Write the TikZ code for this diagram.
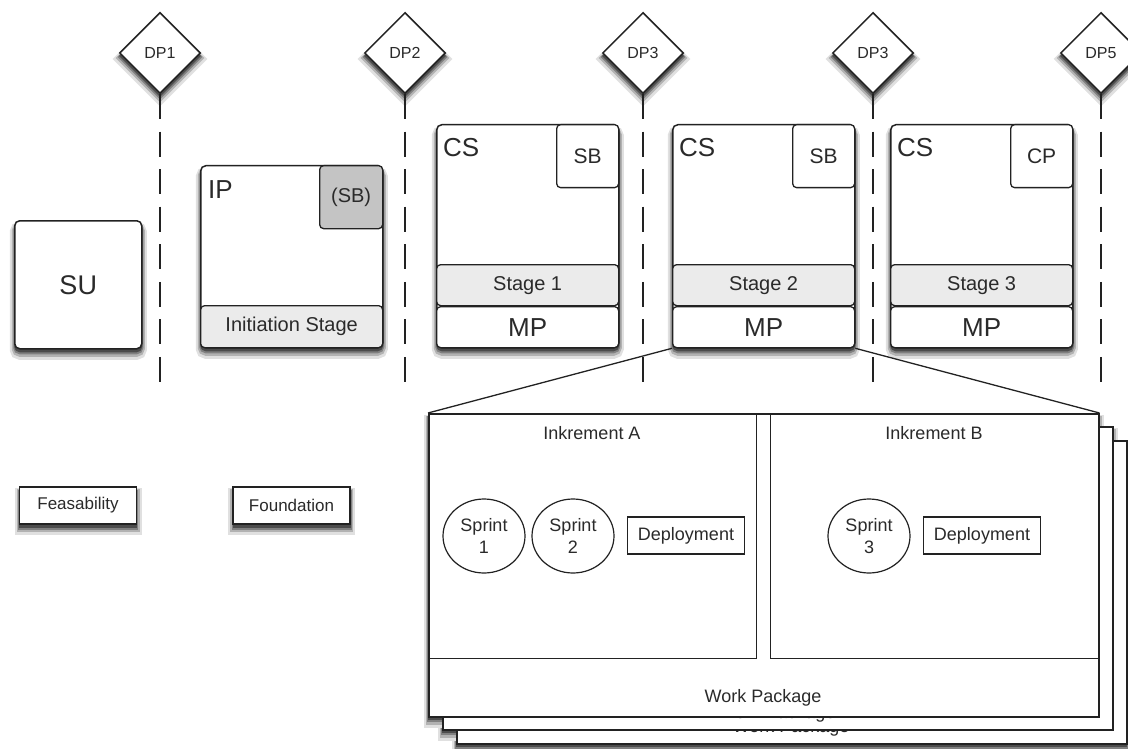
\documentclass[tikz,border=0pt]{standalone}
\usepackage{fontspec}
\setmainfont{Liberation Sans}
\usetikzlibrary{shapes.geometric,shadows}
\definecolor{ln}{HTML}{222222}
\definecolor{tx}{HTML}{2A2A2A}
\definecolor{band}{HTML}{EBEBEB}
\definecolor{sbgray}{HTML}{C4C4C4}
\begin{document}
\begin{tikzpicture}[x=1pt,y=-1pt,
  every node/.style={text=tx, inner sep=0pt, font=\fontsize{18}{21.6}\selectfont},
  shad/.style={
    general shadow={shadow yshift=-6pt, fill=black!12, draw=black!12, line width=10pt},
    general shadow={shadow yshift=-5pt, fill=black!30, draw=black!30, line width=6pt},
    general shadow={shadow yshift=-4pt, fill=black!50, draw=black!50, line width=3pt},
    general shadow={shadow yshift=-3pt, fill=black!70, draw=black!70, line width=1pt}},
  rbox/.style={draw=ln, line width=1.5pt, rounded corners=5pt, fill=white, anchor=north west},
  subbox/.style={draw=ln, line width=1.3pt, rounded corners=4pt, fill=white, anchor=north west},
  dpnode/.style={diamond, draw=ln, line width=1.5pt, fill=white, minimum width=81pt, minimum height=81pt, shad, font=\fontsize{16}{19}\selectfont},
  dline/.style={draw=ln, line width=1.3pt, dash pattern=on 25pt off 12.5pt},
  sheet/.style={draw=ln, line width=1.5pt, fill=white, anchor=north west, minimum width=670pt, minimum height=303pt},
  panel/.style={draw=ln, line width=1.2pt, anchor=north west, minimum width=328pt, minimum height=245pt},
  sprint/.style={ellipse, draw=ln, line width=1.2pt, minimum width=82pt, minimum height=74pt, align=center, fill=white},
  deploy/.style={draw=ln, line width=1.2pt, minimum width=117pt, minimum height=37pt},
  phase/.style={draw=ln, line width=1.5pt, fill=white, minimum width=117pt, minimum height=37pt, shad, font=\fontsize{17}{20}\selectfont},
  big/.style={font=\fontsize{26}{31}\selectfont},
  mid/.style={font=\fontsize{21}{25}\selectfont},
  stg/.style={font=\fontsize{20}{24}\selectfont}
]
\useasboundingbox (0,0) rectangle (1128,749);
\clip (0,0) rectangle (1128,749);

% decision points
\node[dpnode] (dp1) at (160,53) {DP1};
\node[dpnode] (dp2) at (405,53) {DP2};
\node[dpnode] (dp3) at (643,53) {DP3};
\node[dpnode] (dp4) at (873,53) {DP3};
\node[dpnode] (dp5) at (1101,53) {DP5};
\coordinate (e1) at (160,388);
\coordinate (e2) at (405,388);
\coordinate (e3) at (643,388);
\coordinate (e4) at (873,388);
\coordinate (e5) at (1101,388);
\draw[dline] (dp1.south) -- (e1);
\draw[dline] (dp2.south) -- (e2);
\draw[dline] (dp3.south) -- (e3);
\draw[dline] (dp4.south) -- (e4);
\draw[dline] (dp5.south) -- (e5);

% SU
\node[rbox, shad, minimum width=127pt, minimum height=128pt, font=\fontsize{27}{32}\selectfont] (su) at (14,220) {SU};

% IP
\node[rbox, shad, minimum width=182pt, minimum height=182pt] (ip) at (200,165) {};
\node[big, anchor=north west] (ipt) at (208,180) {IP};
\node[subbox, fill=sbgray, minimum width=63pt, minimum height=63pt, font=\fontsize{20}{24}\selectfont] (ipsb) at (319,165) {(SB)};
\node[subbox, fill=band, minimum width=182pt, minimum height=42pt, stg] (ist) at (200,305) {Initiation Stage};

% CS boxes
\node[rbox, shad, minimum width=182pt, minimum height=223pt] (cs1) at (436,124) {};
\node[big, anchor=north west] (cs1t) at (443,138) {CS};
\node[subbox, minimum width=62pt, minimum height=63pt, mid] (sb1) at (556,124) {SB};
\node[subbox, fill=band, minimum width=182pt, minimum height=41pt, stg] (st1) at (436,264) {Stage 1};
\node[subbox, minimum width=182pt, minimum height=41pt, big] (mp1) at (436,306) {MP};

\node[rbox, shad, minimum width=182pt, minimum height=223pt] (cs2) at (672,124) {};
\node[big, anchor=north west] (cs2t) at (679,138) {CS};
\node[subbox, minimum width=62pt, minimum height=63pt, mid] (sb2) at (792,124) {SB};
\node[subbox, fill=band, minimum width=182pt, minimum height=41pt, stg] (st2) at (672,264) {Stage 2};
\node[subbox, minimum width=182pt, minimum height=41pt, big] (mp2) at (672,306) {MP};

\node[rbox, shad, minimum width=182pt, minimum height=223pt] (cs3) at (890,124) {};
\node[big, anchor=north west] (cs3t) at (897,138) {CS};
\node[subbox, minimum width=62pt, minimum height=63pt, mid] (cp3) at (1010,124) {CP};
\node[subbox, fill=band, minimum width=182pt, minimum height=41pt, stg] (st3) at (890,264) {Stage 3};
\node[subbox, minimum width=182pt, minimum height=41pt, big] (mp3) at (890,306) {MP};

% phases
\node[phase] (feas) at (78,505.5) {Feasability};
\node[phase] (found) at (291.5,505.5) {Foundation};

% work package stack: shadows first, then sheets
\node[sheet, draw=none, shad] (wp3s) at (456,440) {};
\node[sheet, draw=none, shad] (wp2s) at (442,426) {};
\node[sheet, draw=none, shad] (wp1s) at (428,413) {};
\node[sheet] (wp3) at (456,440) {};
\node (wp3t) at (791,727.5) {Work Package};
\node[sheet] (wp2) at (442,426) {};
\node (wp2t) at (777,713.5) {Work Package};
\node[sheet] (wp1) at (428,413) {};
\node (wp1t) at (763,698) {Work Package};

\draw[draw=ln, line width=1.3pt] (mp2.south west) -- (wp1.north west);
\draw[draw=ln, line width=1.3pt] (mp2.south east) -- (wp1.north east);

\node[panel] (inka) at (428,413) {};
\node[panel] (inkb) at (770,413) {};
\node (inkat) at (592,433) {Inkrement A};
\node (inkbt) at (934,433) {Inkrement B};

\node[sprint] (s1) at (484,536) {Sprint\\1};
\node[sprint] (s2) at (573,536) {Sprint\\2};
\node[deploy] (da) at (686,535.5) {Deployment};
\node[sprint] (s3) at (869,536) {Sprint\\3};
\node[deploy] (db) at (982,535.5) {Deployment};
\end{tikzpicture}
\end{document}
